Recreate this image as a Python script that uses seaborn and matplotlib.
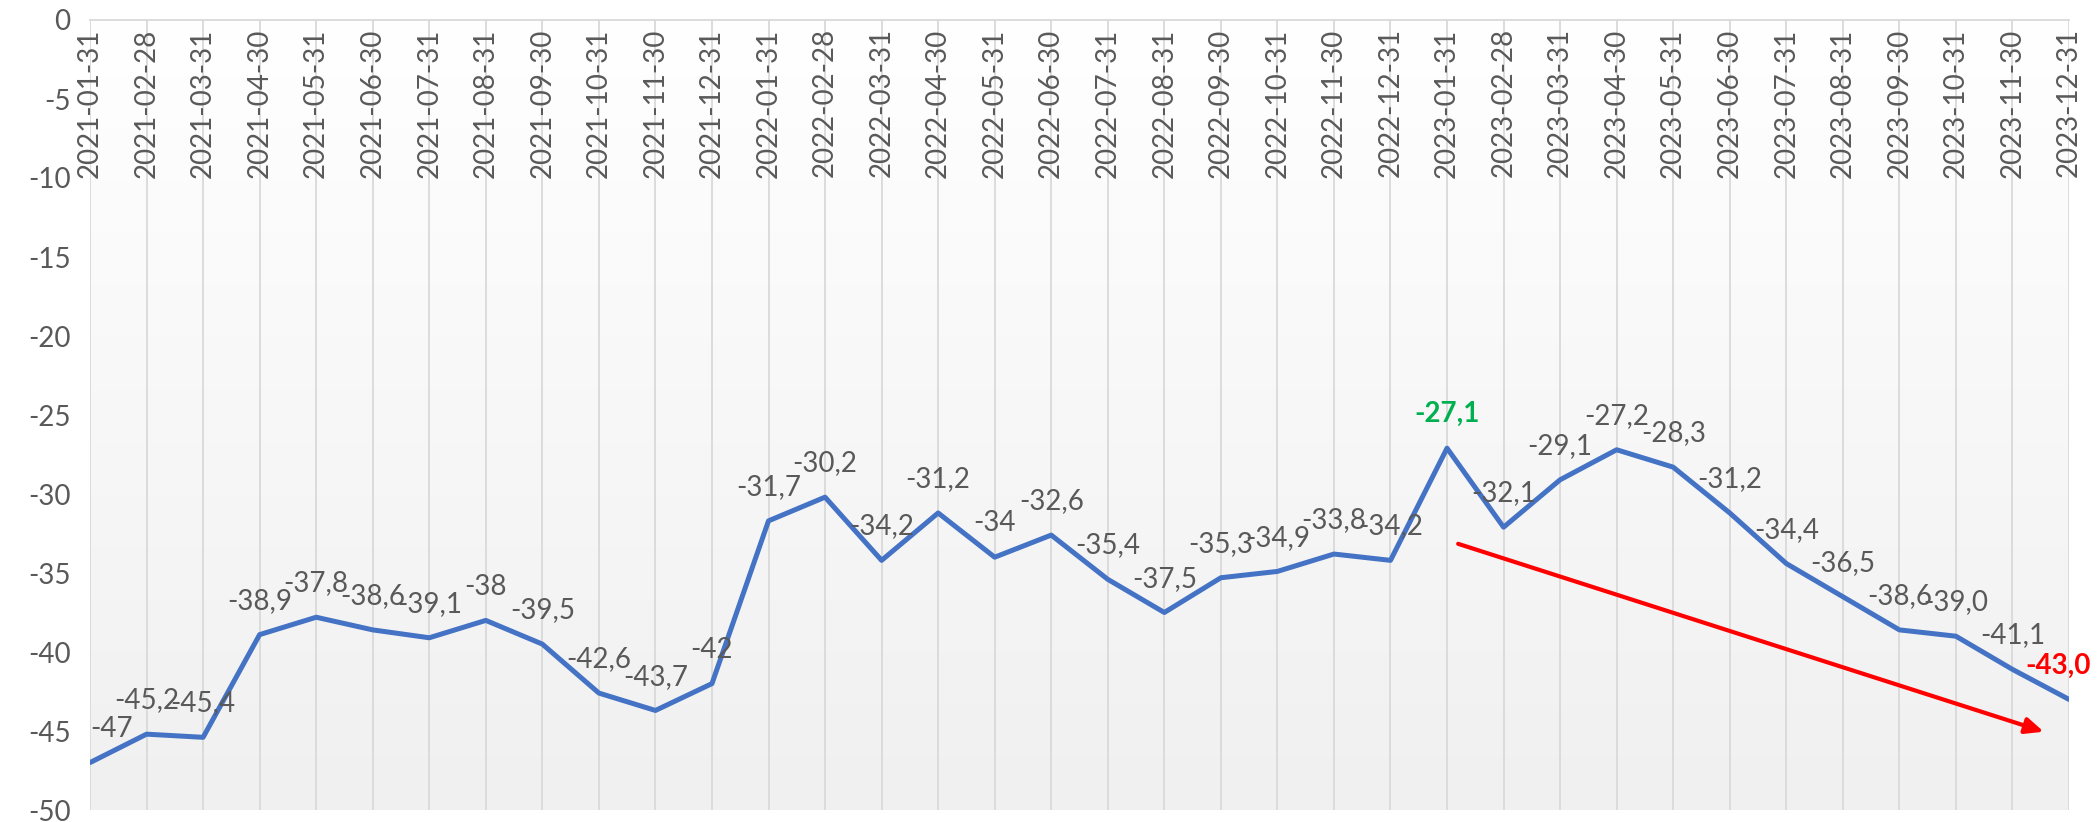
import numpy as np
import pandas as pd
import matplotlib
matplotlib.use("Agg")
import matplotlib.pyplot as plt
from matplotlib.colors import LinearSegmentedColormap
import seaborn as sns

# données
dates = ["2021-01-31", "2021-02-28", "2021-03-31", "2021-04-30", "2021-05-31", "2021-06-30",
         "2021-07-31", "2021-08-31", "2021-09-30", "2021-10-31", "2021-11-30", "2021-12-31",
         "2022-01-31", "2022-02-28", "2022-03-31", "2022-04-30", "2022-05-31", "2022-06-30",
         "2022-07-31", "2022-08-31", "2022-09-30", "2022-10-31", "2022-11-30", "2022-12-31",
         "2023-01-31", "2023-02-28", "2023-03-31", "2023-04-30", "2023-05-31", "2023-06-30",
         "2023-07-31", "2023-08-31", "2023-09-30", "2023-10-31", "2023-11-30", "2023-12-31"]
valeurs = [-47, -45.2, -45.4, -38.9, -37.8, -38.6, -39.1, -38, -39.5, -42.6, -43.7, -42,
           -31.7, -30.2, -34.2, -31.2, -34, -32.6, -35.4, -37.5, -35.3, -34.9, -33.8, -34.2,
           -27.1, -32.1, -29.1, -27.2, -28.3, -31.2, -34.4, -36.5, -38.6, -39.0, -41.1, -43.0]
etiquettes = ["-47", "-45,2", "-45,4", "-38,9", "-37,8", "-38,6", "-39,1", "-38", "-39,5", "-42,6", "-43,7", "-42",
              "-31,7", "-30,2", "-34,2", "-31,2", "-34", "-32,6", "-35,4", "-37,5", "-35,3", "-34,9", "-33,8", "-34,2",
              "-27,1", "-32,1", "-29,1", "-27,2", "-28,3", "-31,2", "-34,4", "-36,5", "-38,6", "-39,0", "-41,1", "-43,0"]
y_ticks = [0, -5, -10, -15, -20, -25, -30, -35, -40, -45, -50]

# étiquettes mises en évidence
idx_max = 24   # -27,1 en vert
idx_last = 35  # -43,0 en rouge

# flèche de tendance (en coordonnées des données)
fleche_debut = (24.15, -33.1)
fleche_fin = (34.6, -45.1)

df = pd.DataFrame({"date": dates, "valeur": valeurs})

sns.set_theme(style="white")
plt.rcParams["font.family"] = ["Lato", "DejaVu Sans"]
plt.rcParams["axes.unicode_minus"] = False

gris = "#595959"
fs = 20
fig = plt.figure(figsize=(21, 8.22), dpi=100)
ax = fig.add_axes([90 / 2100, 1 - 810 / 822, (2069 - 90) / 2100, (810 - 20) / 822])

# fond dégradé
cmap = LinearSegmentedColormap.from_list("fond", ["#FFFFFF", "#F0F0F0"])
grad = np.linspace(0, 1, 256).reshape(-1, 1)
ax.imshow(grad, cmap=cmap, extent=[0, len(dates) - 1, -50, 0], aspect="auto", zorder=0)

sns.lineplot(data=df, x="date", y="valeur", color="#4472C4", linewidth=3.6, ax=ax, zorder=3, sort=False)

for i, (v, t) in enumerate(zip(valeurs, etiquettes)):
    couleur, poids, ha, dx = gris, "normal", "center", 0
    if i == idx_max:
        couleur, poids = "#00B050", "bold"
    elif i == idx_last:
        couleur, poids, dx = "#FF0000", "bold", -8
    if i == 0:
        ha = "left"
    ax.annotate(t, (i, v), xytext=(dx, 15), textcoords="offset points",
                ha=ha, va="bottom", fontsize=fs, color=couleur, fontweight=poids, zorder=4)

ax.annotate("", xy=fleche_fin, xytext=fleche_debut,
            arrowprops=dict(arrowstyle="-|>,head_length=0.9,head_width=0.4", color="#FF0000", lw=3), zorder=5)

ax.set_xlim(0, len(dates) - 1)
ax.set_ylim(-50, 0)
ax.set_yticks(y_ticks)
ax.set_xticks(range(len(dates)))
ax.set_xticklabels(dates)
ax.xaxis.tick_top()
ax.tick_params(axis="x", length=0, pad=-6, labelsize=fs, labelcolor=gris)
ax.tick_params(axis="y", length=0, pad=14, labelsize=fs, labelcolor=gris)
for lab in ax.get_xticklabels():
    lab.set_rotation(90)
    lab.set_verticalalignment("top")
ax.grid(axis="x", color="#D9D9D9", linewidth=1.3)
ax.grid(axis="y", visible=False)
ax.set_xlabel("")
ax.set_ylabel("")
for s in ["left", "right", "bottom"]:
    ax.spines[s].set_visible(False)
ax.spines["top"].set_color("#D9D9D9")
ax.spines["top"].set_linewidth(1.3)

fig.savefig("out.png", dpi=100, facecolor="white")
